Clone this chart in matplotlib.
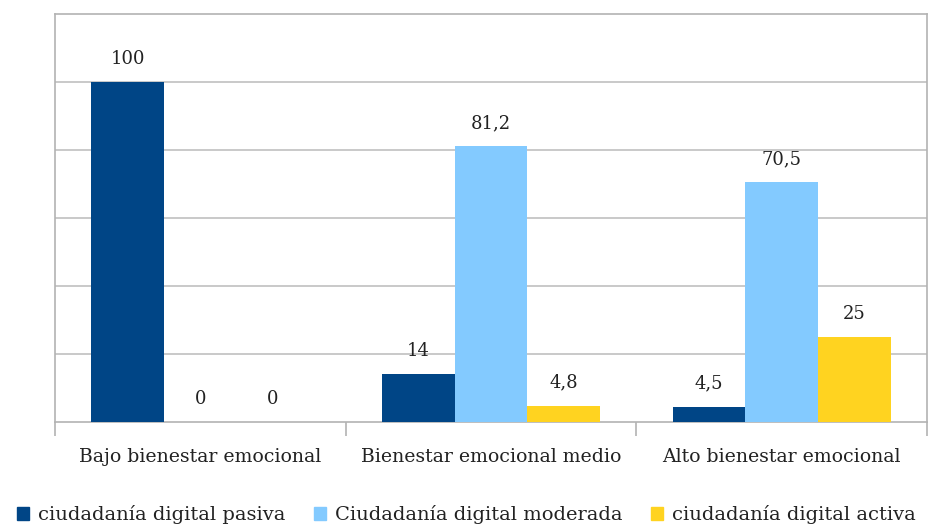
import numpy as np
import matplotlib.pyplot as plt
from matplotlib.patches import Patch

categories = ["Bajo bienestar emocional", "Bienestar emocional medio", "Alto bienestar emocional"]
series_names = ["ciudadanía digital pasiva", "Ciudadanía digital moderada", "ciudadanía digital activa"]
pasiva = [100, 14, 4.5]
moderada = [0, 81.2, 70.5]
activa = [0, 4.8, 25]
colors = ["#004586", "#83CAFF", "#FFD320"]

plt.rcParams["font.family"] = ["DejaVu Serif"]

fig = plt.figure(figsize=(9.33, 5.26), dpi=100)
ax = fig.add_axes([55 / 933, 104 / 526, 872 / 933, 408 / 526])

x = np.arange(len(categories))
w = 0.25
for i, (vals, c) in enumerate(zip([pasiva, moderada, activa], colors)):
    pos = x + (i - 1) * w
    ax.bar(pos, vals, width=w, color=c, zorder=3)
    for p, v in zip(pos, vals):
        lbl = f"{v:g}".replace(".", ",")
        ax.annotate(lbl, (p, v), xytext=(0, 16.5), textcoords="offset points",
                    ha="center", va="center", fontsize=13, color="#222222")

ax.set_xlim(-0.5, 2.5)
ax.set_ylim(0, 120)
ax.set_yticks([20, 40, 60, 80, 100])
ax.yaxis.set_tick_params(length=0, labelleft=False)
ax.grid(axis="y", color="#c0c0c0", linewidth=1.2, zorder=0)

ax.set_xticks(x)
ax.set_xticklabels(categories, fontsize=13.6, color="#222222")
ax.tick_params(axis="x", which="major", length=0, pad=19)
ax.set_xticks([-0.5, 0.5, 1.5, 2.5], minor=True)
ax.tick_params(axis="x", which="minor", length=10, width=1.2, color="#b3b3b3")

for s in ax.spines.values():
    s.set_color("#b3b3b3")
    s.set_linewidth(1.2)

handles = [Patch(color=c) for c in colors]
leg = fig.legend(handles, series_names, loc="lower center", bbox_to_anchor=(0.5, -0.03),
                 ncol=3, frameon=False, fontsize=14, handlelength=0.6, handleheight=0.6,
                 handletextpad=0.45, columnspacing=1.5)
for t in leg.get_texts():
    t.set_color("#222222")

fig.savefig("out.png", dpi=100)
